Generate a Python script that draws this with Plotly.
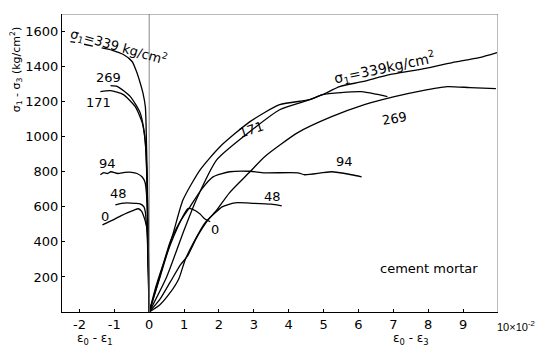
import plotly.graph_objects as go

# ---- data ----
# lateral strain branches (eps0 - eps1, x 10^-2), stress difference (kg/cm2)
L339_x = [0, -0.02, -0.05, -0.08, -0.11, -0.18, -0.26, -0.38, -0.49, -0.74, -1.11]
L339_y = [0, 300, 700, 980, 1170, 1250, 1308, 1380, 1429, 1469, 1497]
L339d_x = [-1.11, -1.4, -1.77, -2.26]
L339d_y = [1497, 1509, 1526, 1543]

L269_x = [0, -0.02, -0.05, -0.09, -0.14, -0.26, -0.54, -0.91, -1.11]
L269_y = [0, 300, 650, 900, 1023, 1137, 1229, 1286, 1291]

L171_x = [0, -0.02, -0.05, -0.08, -0.11, -0.2, -0.4, -0.74, -1.11, -1.4]
L171_y = [0, 300, 620, 850, 966, 1080, 1171, 1240, 1263, 1257]

L94_x = [0, -0.02, -0.05, -0.08, -0.12, -0.2, -0.35, -0.5, -0.7, -0.9, -1.1, -1.2, -1.3, -1.4]
L94_y = [0, 250, 520, 680, 740, 770, 790, 797, 797, 790, 800, 790, 795, 783]

L48_x = [0, -0.02, -0.05, -0.08, -0.11, -0.15, -0.26, -0.4, -0.63, -0.8, -0.97]
L48_y = [0, 200, 420, 500, 570, 600, 617, 620, 623, 620, 611]

L0_x = [0, -0.02, -0.04, -0.06, -0.1, -0.17, -0.22, -0.31, -0.45, -0.63, -0.8, -1.03, -1.2, -1.34]
L0_y = [0, 150, 300, 469, 510, 554, 575, 589, 580, 566, 550, 526, 510, 497]

# axial strain branches (eps0 - eps3, x 10^-2)
R339_x = [0, 0.5, 0.97, 1.35, 1.94, 2.89, 3.74, 4.5, 4.97, 5.46, 6.11, 6.89, 7.74, 8.69, 9.46, 9.97]
R339_y = [0, 200, 451, 640, 869, 1030, 1154, 1205, 1240, 1286, 1314, 1354, 1383, 1423, 1451, 1480]

R171_x = [0, 0.31, 0.69, 0.97, 1.46, 2.03, 2.89, 3.74, 4.6, 4.97, 5.5, 6.09, 6.5, 6.83]
R171_y = [0, 200, 451, 640, 811, 943, 1086, 1183, 1211, 1240, 1252, 1257, 1243, 1229]

R269_x = [0, 0.3, 0.6, 0.9, 1.1, 1.35, 1.65, 1.95, 2.3, 2.89, 3.31, 4.26, 5.23, 6.17, 7.03, 7.8, 8.54, 9.2, 9.94]
R269_y = [0, 70, 170, 270, 320, 420, 515, 585, 680, 800, 886, 1023, 1114, 1183, 1229, 1262, 1286, 1280, 1274]

R94_x = [0, 0.3, 0.6, 0.9, 1.17, 1.5, 1.83, 2.31, 2.89, 3.31, 4.26, 4.46, 5.23, 5.8, 6.09]
R94_y = [0, 200, 400, 520, 600, 700, 771, 800, 803, 794, 794, 783, 800, 783, 771]

R48_x = [0, 0.3, 0.6, 0.85, 1.03, 1.31, 1.6, 1.89, 2.09, 2.46, 3.0, 3.5, 3.8]
R48_y = [0, 40, 110, 190, 297, 411, 509, 566, 600, 623, 620, 615, 606]

R0_x = [0, 0.2, 0.45, 0.7, 0.9, 1.11, 1.25, 1.45, 1.6, 1.75]
R0_y = [0, 150, 300, 430, 520, 590, 585, 560, 530, 515]

x_ticks = [-2, -1, 0, 1, 2, 3, 4, 5, 6, 7, 8, 9]
y_ticks = [200, 400, 600, 800, 1000, 1200, 1400, 1600]

FONT = "DejaVu Sans"
LW = 1.3

fig = go.Figure()
solid = [(L339_x, L339_y), (L269_x, L269_y), (L171_x, L171_y), (L94_x, L94_y),
         (L48_x, L48_y), (L0_x, L0_y), (R339_x, R339_y), (R171_x, R171_y),
         (R269_x, R269_y), (R94_x, R94_y), (R48_x, R48_y), (R0_x, R0_y)]
for xs, ys in solid:
    fig.add_trace(go.Scatter(x=xs, y=ys, mode="lines",
                             line=dict(color="black", width=LW, shape="spline", smoothing=0.6),
                             showlegend=False, hoverinfo="skip"))
fig.add_trace(go.Scatter(x=L339d_x, y=L339d_y, mode="lines",
                         line=dict(color="black", width=LW, dash="dash"),
                         showlegend=False, hoverinfo="skip"))

# vertical line at zero strain
fig.add_shape(type="line", x0=0, x1=0, y0=0, y1=1700, xref="x", yref="y",
              line=dict(color="#888888", width=1))
# top and right border
fig.add_shape(type="line", x0=-2.5, x1=10, y0=1700, y1=1700, xref="x", yref="y",
              line=dict(color="#777777", width=1))
fig.add_shape(type="line", x0=10, x1=10, y0=0, y1=1700, xref="x", yref="y",
              line=dict(color="#777777", width=1))

def lab(x, y, t, angle=0, size=13):
    fig.add_annotation(x=x, y=y, text=t, showarrow=False, textangle=angle,
                       font=dict(family=FONT, size=size, color="black"))

lab(-0.86, 1514, "σ<sub>1</sub>=339 kg/cm<sup>2</sup>", 16, 13)
lab(-1.17, 1337, "269")
lab(-1.46, 1194, "171")
lab(-1.2, 845, "94")
lab(-0.89, 674, "48")
lab(-1.26, 543, "0")
lab(2.94, 1040, "171", -18)
lab(6.74, 1394, "σ<sub>1</sub>=339kg/cm<sup>2</sup>", -12, 14)
lab(7.03, 1105, "269", -10)
lab(5.6, 860, "94")
lab(3.54, 660, "48")
lab(1.89, 469, "0")
lab(8.03, 251, "cement mortar", 0, 13)

# 10x10^-2 tick label
fig.add_annotation(x=10, y=0, xref="x", yref="y", text="10×10<sup>-2</sup>",
                   showarrow=False, xanchor="left", yanchor="top", xshift=-3, yshift=-5,
                   font=dict(family="Liberation Sans", size=11, color="black"))
# axis titles
fig.add_annotation(xref="paper", yref="paper", x=-0.105, y=0.815, xanchor="center", yanchor="middle",
                   text="σ<sub>1</sub> - σ<sub>3</sub> (kg/cm<sup>2</sup>)", textangle=-90,
                   showarrow=False, font=dict(family=FONT, size=11, color="black"))
fig.add_annotation(x=-1.55, y=0, xref="x", yref="y", text="ε<sub>0</sub> - ε<sub>1</sub>",
                   showarrow=False, yanchor="top", yshift=-17,
                   font=dict(family=FONT, size=12, color="black"))
fig.add_annotation(x=7.5, y=0, xref="x", yref="y", text="ε<sub>0</sub> - ε<sub>3</sub>",
                   showarrow=False, yanchor="top", yshift=-17,
                   font=dict(family=FONT, size=12, color="black"))

fig.update_layout(
    width=535, height=345,
    margin=dict(l=62, r=37, t=14, b=33),
    paper_bgcolor="white", plot_bgcolor="white",
    font=dict(family=FONT, size=13, color="black"),
    xaxis=dict(range=[-2.5, 10], tickvals=x_ticks, ticktext=[str(v) for v in x_ticks],
               showgrid=False, zeroline=False, showline=True, linecolor="black", linewidth=1,
               ticks="inside", ticklen=3, tickcolor="black"),
    yaxis=dict(range=[0, 1700], tickvals=y_ticks, ticktext=[str(v) for v in y_ticks],
               showgrid=False, zeroline=False, showline=True, linecolor="black", linewidth=1.2,
               ticks="inside", ticklen=3, tickcolor="black"),
)

fig.write_html("out.html")
